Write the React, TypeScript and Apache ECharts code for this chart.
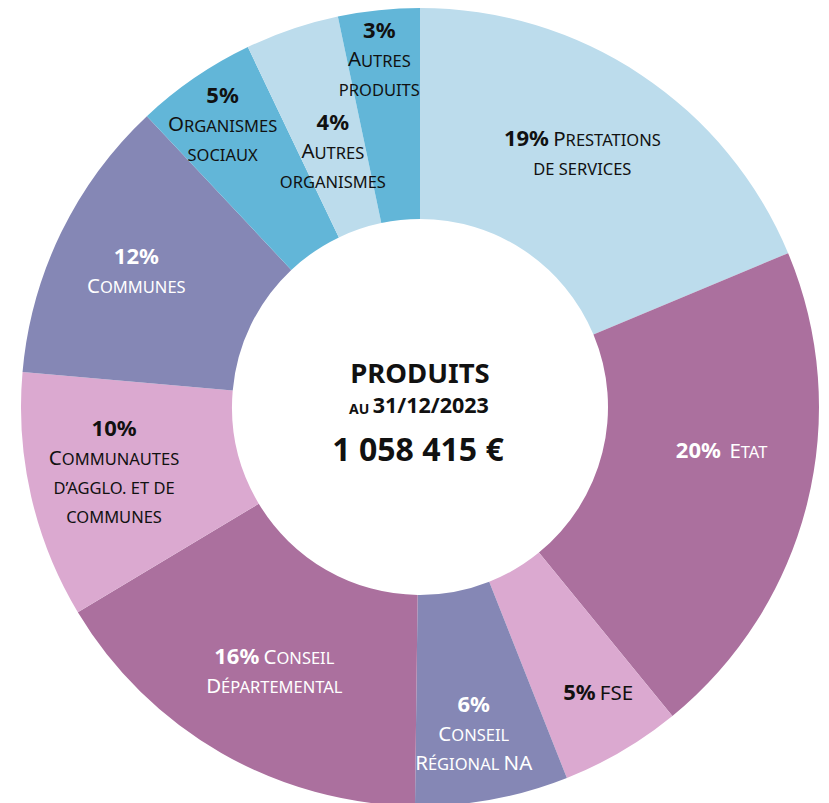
import React, { useEffect, useRef } from "react";
import * as echarts from "echarts";

const categories = [
  "Prestations de services",
  "Etat",
  "FSE",
  "Conseil Régional NA",
  "Conseil Départemental",
  "Communautes d’agglo. et de communes",
  "Communes",
  "Organismes sociaux",
  "Autres organismes",
  "Autres produits",
];
const shares = [18.7, 20.4, 4.9, 6.2, 16.2, 10.0, 11.6, 4.9, 3.8, 3.3];
const labelLines = [
  ["Prestations", "de services"],
  [" Etat"],
  ["FSE"],
  ["Conseil", "Régional NA"],
  ["Conseil", "Départemental"],
  ["Communautes", "d’agglo. et de", "communes"],
  ["Communes"],
  ["Organismes", "sociaux"],
  ["Autres", "organismes"],
  ["Autres", "produits"],
];
const pctInline = [true, true, true, false, true, false, false, false, false, false];
const sliceColors = ["#BCDCEC", "#AB709E", "#DBA9D0", "#8587B5", "#AB709E", "#DBA9D0", "#8587B5", "#62B6D8", "#BCDCEC", "#62B6D8"];
const inkColors = ["#111", "#fff", "#111", "#fff", "#fff", "#111", "#fff", "#111", "#111", "#111"];
const labelShift = [
  [-2, -12], [14, -33], [28, 25], [0, 30], [2, 2],
  [-17, -6], [-17, -11], [-30, -43], [8, 20], [-10, -58],
];
const totalText = "1 058 415 €";
const titleText = "PRODUITS";
const dateText = "31/12/2023";

const FONT = '"Noto Sans", sans-serif';

function smallCaps(text: string, suf: string): string {
  let out = "";
  let buf = "";
  let cls = "";
  for (const ch of text) {
    const isBig = ch !== ch.toLowerCase() && ch === ch.toUpperCase();
    const c = ch === " " ? cls || "s" : isBig ? "C" : "s";
    if (c !== cls && buf) {
      out += `{${cls}${suf}|${buf}}`;
      buf = "";
    }
    cls = c;
    buf += ch.toUpperCase();
  }
  if (buf) out += `{${cls}${suf}|${buf}}`;
  return out;
}

function makeRich(color: string, suf: string) {
  const base = { color, fontFamily: FONT, lineHeight: 29, verticalAlign: "bottom" };
  return {
    ["p" + suf]: { ...base, fontSize: 22, fontWeight: "bold" },
    ["C" + suf]: { ...base, fontSize: 20.5, fontWeight: "normal" },
    ["s" + suf]: { ...base, fontSize: 16.5, fontWeight: "normal" },
  };
}

export default function App() {
  const ref = useRef<HTMLDivElement>(null);
  useEffect(() => {
    if (!ref.current) return;
    const chart = echarts.init(ref.current, undefined, { renderer: "svg" });
    const rich = { ...makeRich("#111", "b"), ...makeRich("#fff", "w") };
    const data = categories.map((name, i) => ({
      name,
      value: shares[i],
      itemStyle: { color: sliceColors[i] },
    }));
    chart.setOption({
      animation: false,
      backgroundColor: "#fff",
      series: [
        {
          type: "pie",
          center: [420, 407],
          radius: [188, 399],
          startAngle: 90,
          clockwise: true,
          avoidLabelOverlap: false,
          silent: true,
          emphasis: { disabled: true },
          itemStyle: { borderWidth: 0 },
          labelLine: { show: false },
          label: {
            show: true,
            position: "inside",
            align: "center",
            rich,
            formatter: (p: any) => {
              const i = p.dataIndex;
              const suf = inkColors[i] === "#fff" ? "w" : "b";
              const pct = `{p${suf}|${Math.round(p.value)}%}`;
              const lines = labelLines[i].map((l) => smallCaps(l, suf));
              if (pctInline[i]) {
                lines[0] = `${pct}{s${suf}| }${lines[0]}`;
                return lines.join("\n");
              }
              return [pct, ...lines].join("\n");
            },
          },
          labelLayout: (params: any) => ({
            dx: labelShift[params.dataIndex][0],
            dy: labelShift[params.dataIndex][1],
          }),
          data,
        },
      ],
      graphic: [
        {
          type: "text",
          x: 420,
          y: 372,
          style: {
            text: titleText,
            font: `bold 27.5px ${FONT}`,
            lineHeight: 24,
            fill: "#111",
            align: "center",
            verticalAlign: "middle",
          },
        },
        {
          type: "text",
          x: 419,
          y: 405,
          style: {
            text: `{a|AU} {b|${dateText}}`,
            fill: "#111",
            align: "center",
            verticalAlign: "middle",
            rich: {
              a: { fontSize: 14, fontWeight: "bold", fontFamily: FONT, verticalAlign: "bottom", lineHeight: 20 },
              b: { fontSize: 21.5, fontWeight: "bold", fontFamily: FONT, verticalAlign: "bottom", lineHeight: 20 },
            },
          },
        },
        {
          type: "text",
          x: 418,
          y: 448,
          style: {
            text: totalText,
            font: `bold 32px ${FONT}`,
            lineHeight: 30,
            fill: "#111",
            align: "center",
            verticalAlign: "middle",
          },
        },
      ],
    });
    return () => chart.dispose();
  }, []);
  return (
    <div
      ref={ref}
      style={{ position: "absolute", left: 0, top: 0, width: 829, height: 803 }}
    />
  );
}
